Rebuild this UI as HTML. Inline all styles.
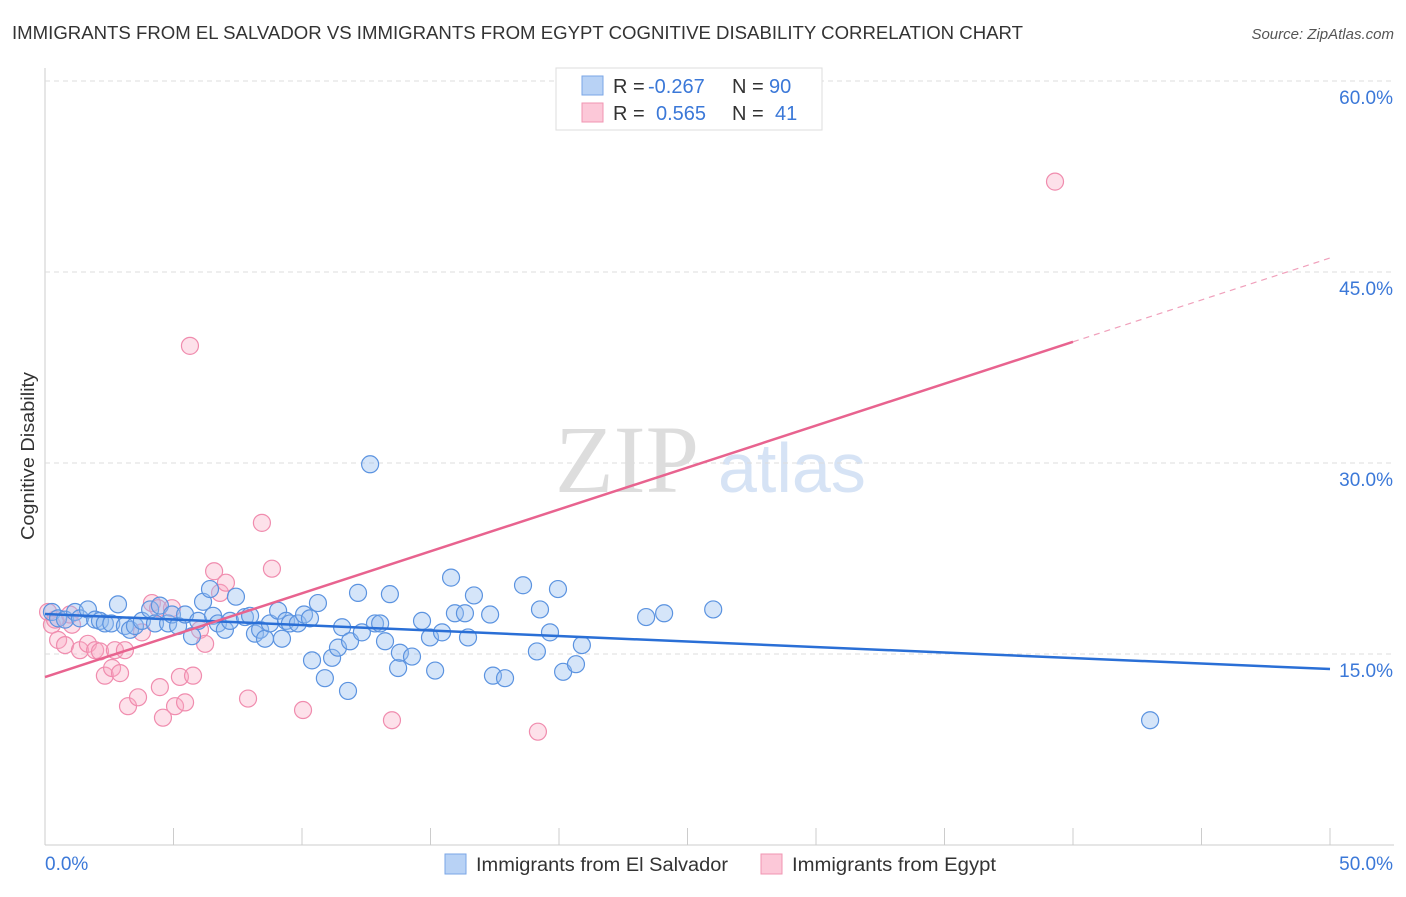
<!DOCTYPE html>
<html><head><meta charset="utf-8"><style>
body{margin:0;background:#fff;font-family:"Liberation Sans",sans-serif;}
</style></head><body>
<svg id="c" width="1406" height="892" xmlns="http://www.w3.org/2000/svg" style="font-family:'Liberation Sans',sans-serif">
<text x="12" y="39" font-size="18" textLength="1011" lengthAdjust="spacingAndGlyphs" fill="#333">IMMIGRANTS FROM EL SALVADOR VS IMMIGRANTS FROM EGYPT COGNITIVE DISABILITY CORRELATION CHART</text>
<text x="1394" y="39" font-size="15" fill="#555" font-style="italic" text-anchor="end">Source: ZipAtlas.com</text>
<text x="34" y="540" font-size="18" textLength="168" lengthAdjust="spacingAndGlyphs" fill="#333" transform="rotate(-90 34 540)">Cognitive Disability</text>
<g><text x="555" y="492" font-size="96" fill="#ddd" font-family="Liberation Serif,serif">ZIP</text><text x="718" y="492" font-size="70" fill="#d6e3f5">atlas</text></g>
<g id="grid"></g><g id="pts"></g><g id="lines"></g>
<g>
<rect x="556" y="68" width="266" height="62" fill="#fff" stroke="#ddd"/>
<rect x="582" y="76" width="21" height="19" fill="#b8d2f5" stroke="#7aa6e6"/>
<rect x="582" y="103" width="21" height="19" fill="#fcc8d8" stroke="#f095b2"/>
<text x="613" y="93" font-size="20" fill="#333">R =</text>
<text x="648" y="93" font-size="20" fill="#3b78d8">-0.267</text>
<text x="732" y="93" font-size="20" fill="#333">N =</text>
<text x="769" y="93" font-size="20" fill="#3b78d8">90</text>
<text x="613" y="120" font-size="20" fill="#333">R =</text>
<text x="656" y="120" font-size="20" fill="#3b78d8">0.565</text>
<text x="732" y="120" font-size="20" fill="#333">N =</text>
<text x="775" y="120" font-size="20" fill="#3b78d8">41</text>
</g>
<g>
<rect x="445" y="854" width="21" height="20" fill="#b8d2f5" stroke="#7aa6e6"/>
<text x="476" y="871" font-size="19" textLength="252" lengthAdjust="spacingAndGlyphs" fill="#333">Immigrants from El Salvador</text>
<rect x="761" y="854" width="21" height="20" fill="#fcc8d8" stroke="#f095b2"/>
<text x="792" y="871" font-size="19" textLength="204" lengthAdjust="spacingAndGlyphs" fill="#333">Immigrants from Egypt</text>
</g>
</svg>
<script>
const yTicks=[15,30,45,60];
const xTickLabels=["0.0%","50.0%"];
const blueX=[0.27,0.51,0.78,1.17,1.36,1.67,1.95,2.14,2.33,2.84,2.58,3.11,3.31,3.5,3.77,4.09,4.28,4.47,4.79,4.94,5.18,5.45,5.72,5.96,6.15,6.42,6.54,6.73,7.0,7.2,7.43,7.78,7.98,8.17,8.37,8.56,8.75,9.07,9.22,9.38,9.53,9.84,10.08,10.31,10.39,10.62,10.89,11.17,11.4,11.56,11.79,11.87,12.18,12.33,12.65,12.84,13.04,13.23,13.42,13.74,13.81,14.28,14.67,14.98,15.18,15.45,15.8,15.95,16.34,16.46,16.69,17.32,17.43,17.9,18.6,19.14,19.26,19.65,19.96,20.16,20.66,20.89,23.39,24.09,26.0,43.0];
const blueY=[18.3,17.8,17.7,18.3,17.8,18.5,17.7,17.6,17.4,18.9,17.4,17.2,16.9,17.2,17.6,18.5,17.4,18.8,17.4,18.1,17.2,18.1,16.4,17.6,19.1,20.1,18.0,17.4,16.9,17.6,19.5,17.9,18.0,16.6,16.9,16.2,17.4,18.4,16.2,17.6,17.4,17.4,18.1,17.8,14.5,19.0,13.1,14.7,15.5,17.1,12.1,16.0,19.8,16.7,29.9,17.4,17.4,16.0,19.7,13.9,15.1,14.8,17.6,16.3,13.7,16.7,21.0,18.2,18.2,16.3,19.6,18.1,13.3,13.1,20.4,15.2,18.5,16.7,20.1,13.6,14.2,15.7,17.9,18.2,18.5,9.8];
const pinkX=[0.12,0.27,0.51,0.78,1.05,1.36,1.67,1.95,2.14,2.33,2.61,2.72,2.92,3.11,3.23,3.62,3.77,4.16,4.4,4.47,4.59,4.94,5.06,5.25,5.45,5.64,5.76,6.03,6.23,6.58,6.81,7.04,7.9,8.44,8.83,10.04,13.5,19.18,39.3,0.39,0.97];
const pinkY=[18.3,17.3,16.1,15.7,17.3,15.3,15.8,15.3,15.2,13.3,13.9,15.3,13.5,15.3,10.9,11.6,16.7,19.0,18.6,12.4,10.0,18.6,10.9,13.2,11.2,39.2,13.3,16.9,15.8,21.5,19.8,20.6,11.5,25.3,21.7,10.6,9.8,8.9,52.1,17.7,18.1];
const blueLine=[18.14,13.82], pinkLine=[13.19,46.1], pinkSolidEnd=40;
const X=v=>45+v*25.7, Y=v=>845-v*12.733;
const NS="http://www.w3.org/2000/svg";
function mk(t,a,p){const e=document.createElementNS(NS,t);for(const k in a)e.setAttribute(k,a[k]);p.appendChild(e);return e;}
const g=document.getElementById('grid');
const ax=mk('line',{x1:45,y1:68,x2:45,y2:845,stroke:'#ccc'},g);


const bx=mk('line',{x1:45,y1:845,x2:1394,y2:845,stroke:'#ccc'},g);


yTicks.forEach(t=>{
 const l=mk('line',{x1:45,y1:Y(t),x2:1394,y2:Y(t),stroke:'#ddd','stroke-dasharray':'5,4'},g);
 
 
 const tx=mk('text',{x:1393,y:Y(t)+23,'font-size':19,fill:'#3b78d8','text-anchor':'end'},g);
 tx.textContent=t.toFixed(1)+'%';
 
 
});
for(let i=0;i<=10;i++){
 const tk=mk('line',{x1:X(i*5),y1:828,x2:X(i*5),y2:845,stroke:'#ccc'},g);
 
 
}
const t0=mk('text',{x:45,y:870,'font-size':19,fill:'#3b78d8'},g);t0.textContent=xTickLabels[0];


const t1=mk('text',{x:1393,y:870,'font-size':19,fill:'#3b78d8','text-anchor':'end'},g);t1.textContent=xTickLabels[1];


const p=document.getElementById('pts');
pinkX.forEach((x,i)=>{const c=mk('circle',{cx:X(x),cy:Y(pinkY[i]),r:8.5,fill:'rgba(248,170,195,0.35)',stroke:'#f08cae','stroke-width':1.2},p);
 
 });
blueX.forEach((x,i)=>{const c=mk('circle',{cx:X(x),cy:Y(blueY[i]),r:8.5,fill:'rgba(150,190,240,0.4)',stroke:'#5b93e0','stroke-width':1.2},p);
 
 });
const L=document.getElementById('lines');
const b=mk('line',{x1:X(0),y1:Y(blueLine[0]),x2:X(50),y2:Y(blueLine[1]),stroke:'#2a6fd6','stroke-width':2.5},L);


const pe=pinkLine[0]+(pinkLine[1]-pinkLine[0])*pinkSolidEnd/50;
const ps=mk('line',{x1:X(0),y1:Y(pinkLine[0]),x2:X(pinkSolidEnd),y2:Y(pe),stroke:'#e8638f','stroke-width':2.5},L);


const pd=mk('line',{x1:X(pinkSolidEnd),y1:Y(pe),x2:X(50),y2:Y(pinkLine[1]),stroke:'#f0a0bb','stroke-width':1.2,'stroke-dasharray':'6,5'},L);


</script>
</body></html>
